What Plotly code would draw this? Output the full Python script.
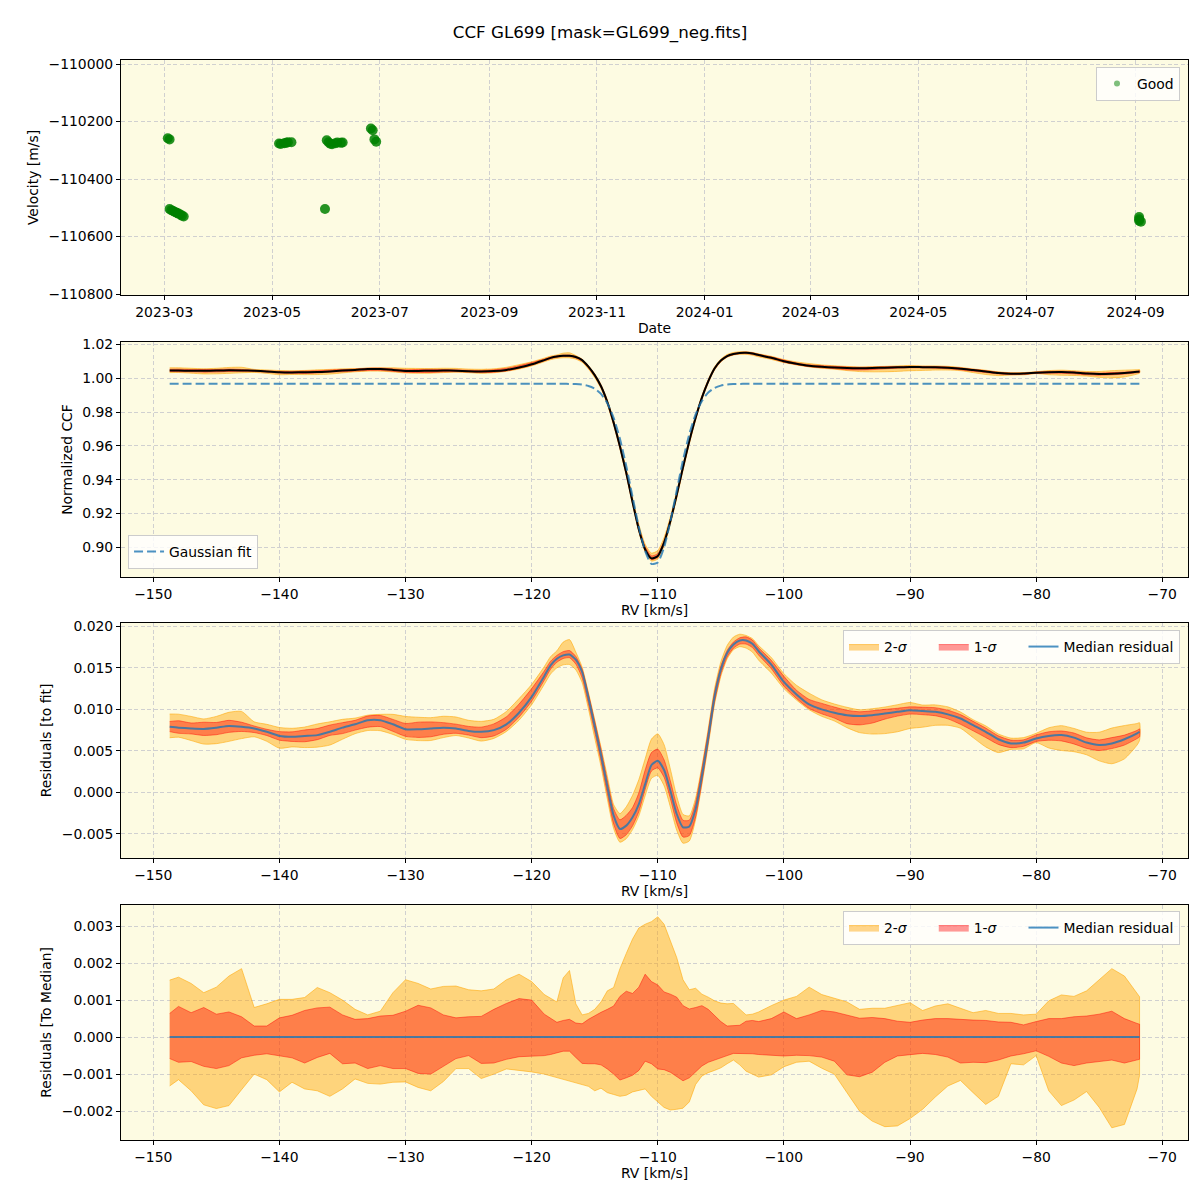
import plotly.graph_objects as go
import numpy as np

TITLE = "CCF GL699 [mask=GL699_neg.fits]"

# ---------------- Panel 1: velocity time series ----------------
obs_dates = ["2023-03-03", "2023-03-04",
             "2023-03-04", "2023-03-05", "2023-03-06", "2023-03-07", "2023-03-08",
             "2023-03-09", "2023-03-10", "2023-03-11", "2023-03-12",
             "2023-05-05", "2023-05-06", "2023-05-08", "2023-05-09", "2023-05-10", "2023-05-12",
             "2023-05-31",
             "2023-06-01", "2023-06-02", "2023-06-03", "2023-06-04", "2023-06-06",
             "2023-06-07", "2023-06-09", "2023-06-10",
             "2023-06-26", "2023-06-27", "2023-06-28", "2023-06-29",
             "2024-09-03", "2024-09-03", "2024-09-03", "2024-09-04"]
obs_vel = [-110258, -110262,
           -110504, -110508, -110511, -110514, -110517,
           -110520, -110523, -110527, -110530,
           -110276, -110278, -110275, -110274, -110272, -110272,
           -110504,
           -110265, -110272, -110277, -110279, -110275,
           -110273, -110274, -110273,
           -110224, -110230, -110262, -110270,
           -110532, -110540, -110545, -110548]

# ---------------- Panels 2-4: RV grid ----------------
rv = [-148.7, -148, -147, -146, -145, -144, -143, -142, -141, -140, -139, -138, -137,
      -136, -135, -134, -133, -132, -131, -130, -129, -128, -127, -126, -125, -124,
      -123, -122, -121, -120, -119,
      -118.5, -118, -117.5, -117, -116.5, -116, -115.5, -115, -114.5, -114, -113.5,
      -113, -112.5, -112, -111.5, -111, -110.5, -110, -109.5, -109, -108.5, -108,
      -107.5, -107, -106.5, -106, -105.5, -105, -104.5, -104, -103.5, -103, -102.5, -102,
      -101, -100, -99, -98, -97, -96, -95, -94, -93, -92, -91, -90, -89, -88, -87, -86,
      -85, -84, -83, -82, -81, -80, -79, -78, -77, -76, -75, -74, -73, -72, -71.8]

gauss_fit = ([0.9968] * 31 +
             [0.9968, 0.9968, 0.9968, 0.9967, 0.9966, 0.9963, 0.9955, 0.9939, 0.9908, 0.9853,
              0.9766, 0.9642, 0.9481, 0.9299, 0.9120, 0.8978, 0.8902, 0.8911, 0.9001, 0.9154,
              0.9336, 0.9516, 0.9670, 0.9787, 0.9866, 0.9916, 0.9943, 0.9957, 0.9964, 0.9966,
              0.9967, 0.9968, 0.9968, 0.9968] +
             [0.9968] * 31)

resid_median = [
    0.0079, 0.0078, 0.0077, 0.00765, 0.0078, 0.0080, 0.0079, 0.0077, 0.0073, 0.0068,
    0.0067, 0.0068, 0.0069, 0.0073, 0.0078, 0.0082, 0.0087, 0.0087, 0.0082, 0.0076,
    0.0076, 0.0077, 0.0078, 0.0077, 0.0074, 0.0073, 0.0075, 0.0082, 0.0096, 0.0115, 0.0140,
    0.0153, 0.0161, 0.0165, 0.0166, 0.0160, 0.0145, 0.0114, 0.0080, 0.0045, 0.0007,
    -0.0028, -0.0044, -0.0040, -0.0030, -0.0014, 0.0010, 0.0033, 0.0038, 0.0027, 0.0002,
    -0.0026, -0.0042, -0.0041, -0.0020, 0.0020, 0.0066, 0.0115, 0.0148, 0.0168, 0.0178,
    0.0183, 0.0183, 0.0179, 0.0170,
    0.0154, 0.0133, 0.0118, 0.0106, 0.0100, 0.0096, 0.0093, 0.0092, 0.0093, 0.0095,
    0.0097, 0.0099, 0.0098, 0.0097, 0.0094, 0.0089, 0.0081, 0.0073, 0.0064, 0.0059,
    0.0060, 0.0065, 0.0068, 0.0069, 0.0066, 0.0060, 0.0057, 0.0059, 0.0064, 0.0071, 0.0073]

# residuals to median, in units of 1e-3
sig2_upper = [
    1.54, 1.62, 1.45, 1.20, 1.35, 1.65, 1.85, 0.80, 0.90, 1.02, 1.02, 1.07, 1.34, 1.20,
    1.00, 0.75, 0.60, 0.70, 1.20, 1.55, 1.45, 1.30, 1.37, 1.38, 1.28, 1.25, 1.30, 1.55,
    1.70, 1.50, 1.15,
    1.05, 0.95, 1.60, 1.80, 0.90, 0.60, 0.64, 0.75, 0.95, 1.25, 1.34, 1.85, 2.26, 2.65,
    2.95, 3.05, 3.12, 3.25, 3.05, 2.60, 2.15, 1.55, 1.28, 1.32, 1.16, 1.08, 0.98, 0.92,
    0.90, 0.91, 0.75, 0.60, 0.62, 0.68,
    0.85, 1.00, 1.10, 1.35, 1.15, 1.05, 0.95, 0.75, 0.78, 0.78, 0.86, 0.93, 0.72, 0.84,
    0.90, 0.78, 0.66, 0.72, 0.64, 0.64, 0.60, 0.62, 0.98, 1.14, 1.10, 1.25, 1.55, 1.85,
    1.65, 1.20, 1.09]
sig1_upper = [
    0.64, 0.83, 0.66, 0.80, 0.62, 0.68, 0.55, 0.30, 0.30, 0.52, 0.59, 0.72, 0.79, 0.81,
    0.60, 0.48, 0.50, 0.57, 0.59, 0.70, 0.86, 0.79, 0.60, 0.52, 0.55, 0.56, 0.75, 0.91,
    1.04, 1.00, 0.62,
    0.50, 0.40, 0.45, 0.48, 0.38, 0.36, 0.48, 0.58, 0.67, 0.75, 0.84, 1.10, 1.24, 1.18,
    1.35, 1.70, 1.50, 1.41, 1.22, 1.16, 1.08, 0.85, 0.76, 0.80, 0.85, 0.75, 0.58, 0.42,
    0.30, 0.31, 0.32, 0.43, 0.45, 0.42,
    0.50, 0.68, 0.50, 0.60, 0.72, 0.68, 0.59, 0.51, 0.53, 0.50, 0.43, 0.40, 0.46, 0.50,
    0.50, 0.47, 0.46, 0.45, 0.41, 0.40, 0.33, 0.42, 0.50, 0.50, 0.55, 0.57, 0.62, 0.70,
    0.50, 0.37, 0.35]
sig1_lower = [
    -0.58, -0.68, -0.66, -0.79, -0.85, -0.77, -0.56, -0.49, -0.45, -0.51, -0.56, -0.70,
    -0.55, -0.44, -0.72, -0.70, -0.85, -0.77, -0.85, -0.85, -0.98, -1.00, -0.80, -0.58,
    -0.50, -0.71, -0.70, -0.60, -0.53, -0.51, -0.50,
    -0.47, -0.43, -0.38, -0.38, -0.55, -0.71, -0.72, -0.72, -0.75, -0.86, -1.00, -1.16,
    -1.10, -1.03, -0.90, -0.65, -0.72, -0.86, -0.88, -0.95, -1.07, -1.18, -1.10, -0.95,
    -0.78, -0.68, -0.62, -0.56, -0.50, -0.44, -0.44, -0.44, -0.45, -0.47,
    -0.50, -0.51, -0.49, -0.50, -0.54, -0.65, -1.02, -1.07, -0.95, -0.68, -0.51, -0.47,
    -0.44, -0.47, -0.54, -0.70, -0.68, -0.69, -0.62, -0.51, -0.45, -0.37, -0.52, -0.70,
    -0.77, -0.70, -0.66, -0.62, -0.70, -0.62, -0.60]
sig2_lower = [
    -1.32, -1.15, -1.45, -1.83, -1.93, -1.85, -1.42, -1.00, -1.15, -1.48, -1.22, -1.40,
    -1.45, -1.60, -1.40, -1.13, -1.25, -1.27, -1.22, -1.21, -1.36, -1.45, -1.20, -0.85,
    -0.85, -1.12, -1.00, -0.86, -0.90, -0.94, -1.00,
    -1.05, -1.10, -1.14, -1.20, -1.24, -1.28, -1.33, -1.45, -1.38, -1.50, -1.55, -1.60,
    -1.57, -1.48, -1.43, -1.40, -1.60, -1.75, -1.90, -1.97, -1.95, -1.92, -1.75, -1.28,
    -1.05, -0.96, -0.90, -0.83, -0.72, -0.62, -0.75, -0.92, -1.00, -1.08,
    -1.02, -0.80, -0.68, -0.65, -0.84, -1.00, -1.50, -2.00, -2.27, -2.42, -2.40, -2.20,
    -1.95, -1.62, -1.32, -1.17, -1.50, -1.82, -1.60, -0.72, -0.75, -0.50, -1.45, -1.85,
    -1.70, -1.47, -1.90, -2.45, -2.36, -1.40, -1.03]

# ---------------- derived arrays ----------------
rv_a = np.array(rv)
g_a = np.array(gauss_fit)
r_a = np.array(resid_median)
u2 = np.array(sig2_upper) * 1e-3
u1 = np.array(sig1_upper) * 1e-3
l1 = np.array(sig1_lower) * 1e-3
l2 = np.array(sig2_lower) * 1e-3
ccf_median = g_a + r_a
zero_median = np.zeros_like(rv_a)

# ---------------- styling ----------------
BG = "#FDFBE2"
FONT = "DejaVu Sans"
FS = 13.9
C2_FILL = "rgba(255,165,0,0.45)"
C2_EDGE = "rgba(255,165,0,0.55)"
C1_FILL = "rgba(255,0,0,0.40)"
C1_EDGE = "rgba(255,0,0,0.45)"
BLUE = "rgba(31,119,180,0.8)"
PAD = "\u00a0" * 5

fig = go.Figure()


def band(xv, lo, hi, fill, edge, name, xa, ya, legend, show, shape):
    xs = list(xv) + list(xv)[::-1]
    ys = list(hi) + list(lo)[::-1]
    fig.add_trace(go.Scatter(
        x=xs, y=ys, fill="toself", fillcolor=fill, mode="lines",
        line=dict(color=edge, width=1, shape=shape, smoothing=0.6),
        name=name, xaxis=xa, yaxis=ya, legend=legend, showlegend=show,
        hoverinfo="skip"))


# Panel 1
fig.add_trace(go.Scatter(
    x=obs_dates, y=obs_vel, mode="markers", name="Good",
    marker=dict(color="green", size=10, opacity=0.85, line=dict(width=0)),
    xaxis="x", yaxis="y", legend="legend", showlegend=False))
# legend-only entry with the small, translucent legend marker
fig.add_trace(go.Scatter(
    x=[None], y=[None], mode="markers", name="Good",
    marker=dict(color="green", size=6, opacity=0.5, line=dict(width=0)),
    xaxis="x", yaxis="y", legend="legend", showlegend=True))

# Panel 2
band(rv_a, ccf_median + l2, ccf_median + u2, C2_FILL, C2_EDGE, "2-σ", "x2", "y2", "legend2", False, "spline")
band(rv_a, ccf_median + l1, ccf_median + u1, C1_FILL, C1_EDGE, "1-σ", "x2", "y2", "legend2", False, "spline")
fig.add_trace(go.Scatter(
    x=rv_a, y=ccf_median, mode="lines", line=dict(color="black", width=2, shape="spline", smoothing=0.6),
    name="Median CCF", xaxis="x2", yaxis="y2", legend="legend2", showlegend=False))
fig.add_trace(go.Scatter(
    x=rv_a, y=g_a, mode="lines",
    line=dict(color=BLUE, width=2, dash="9px,4px", shape="spline", smoothing=0.6),
    name="Gaussian fit", xaxis="x2", yaxis="y2", legend="legend2", showlegend=True))

# Panel 3
band(rv_a, r_a + l2, r_a + u2, C2_FILL, C2_EDGE, "2-<i>σ</i>" + PAD, "x3", "y3", "legend3", True, "spline")
band(rv_a, r_a + l1, r_a + u1, C1_FILL, C1_EDGE, "1-<i>σ</i>" + PAD, "x3", "y3", "legend3", True, "spline")
fig.add_trace(go.Scatter(
    x=rv_a, y=r_a, mode="lines", line=dict(color=BLUE, width=2, shape="spline", smoothing=0.6),
    name="Median residual", xaxis="x3", yaxis="y3", legend="legend3"))

# Panel 4
band(rv_a, l2, u2, C2_FILL, C2_EDGE, "2-<i>σ</i>" + PAD, "x4", "y4", "legend4", True, "linear")
band(rv_a, l1, u1, C1_FILL, C1_EDGE, "1-<i>σ</i>" + PAD, "x4", "y4", "legend4", True, "linear")
fig.add_trace(go.Scatter(
    x=rv_a, y=zero_median, mode="lines", line=dict(color=BLUE, width=2),
    name="Median residual", xaxis="x4", yaxis="y4", legend="legend4"))

axis_common = dict(
    showline=True, linecolor="black", linewidth=1, mirror=True,
    ticks="outside", ticklen=4, tickcolor="black", tickwidth=1,
    showgrid=True, gridcolor="#d0d0d0", griddash="4px,2.5px", gridwidth=1,
    zeroline=False, tickfont=dict(size=FS, color="black"),
    title_font=dict(size=FS, color="black"),
)

rv_range = [-152.56, -67.96]
YSTAND = 6

# page body adds an 8px offset; figure is sized so the plot areas land where they should
W = 1192
H = 1192
fig.update_layout(
    width=W, height=H, showlegend=True,
    paper_bgcolor="white", plot_bgcolor=BG,
    font=dict(family=FONT, size=FS, color="black"),
    margin=dict(l=113, r=12, t=52, b=60, autoexpand=False),
    title=dict(text=TITLE, x=(600 - 8 - 113) / 1067, xref="paper", xanchor="center",
               y=1 - 24 / H, yanchor="middle",
               font=dict(size=16.7, color="black")),
    xaxis=dict(axis_common, type="date", range=["2023-02-04 12:00", "2024-09-30 16:00"],
               dtick="M2", tick0="2023-03-01", tickformat="%Y-%m", anchor="y",
               title=dict(text="Date", standoff=4)),
    yaxis=dict(axis_common, domain=[0.7824, 1.0], range=[-110803, -109986], dtick=200,
               tickformat="d", anchor="x", title=dict(text="Velocity [m/s]", standoff=YSTAND)),
    xaxis2=dict(axis_common, range=rv_range, dtick=10, anchor="y2",
                title=dict(text="RV [km/s]", standoff=4)),
    yaxis2=dict(axis_common, domain=[0.5213, 0.7389], range=[0.8825, 1.0215], dtick=0.02,
                tickformat=".2f", anchor="x2", title=dict(text="Normalized CCF", standoff=YSTAND)),
    xaxis3=dict(axis_common, range=rv_range, dtick=10, anchor="y3",
                title=dict(text="RV [km/s]", standoff=4)),
    yaxis3=dict(axis_common, domain=[0.2611, 0.4787], range=[-0.0079, 0.0204], dtick=0.005,
                tickformat=".3f", anchor="x3", title=dict(text="Residuals [to fit]", standoff=YSTAND)),
    xaxis4=dict(axis_common, range=rv_range, dtick=10, anchor="y4",
                title=dict(text="RV [km/s]", standoff=4)),
    yaxis4=dict(axis_common, domain=[0.0, 0.2176], range=[-0.00278, 0.00357], dtick=0.001,
                tickformat=".3f", anchor="x4",
                title=dict(text="Residuals [To Median]", standoff=YSTAND)),
)

legend_common = dict(bgcolor="rgba(255,255,255,0.8)", bordercolor="#cccccc", borderwidth=1,
                     font=dict(size=FS, color="black"))
fig.update_layout(
    legend=dict(legend_common, x=0.9925, y=0.9935, xanchor="right", yanchor="top", visible=True),
    legend2=dict(legend_common, x=0.0066, y=0.5287, xanchor="left", yanchor="bottom"),
    legend3=dict(legend_common, x=0.9925, y=0.4722, xanchor="right", yanchor="top",
                 orientation="h"),
    legend4=dict(legend_common, x=0.9925, y=0.212, xanchor="right", yanchor="top",
                 orientation="h"),
)

fig.write_html("out.html")
